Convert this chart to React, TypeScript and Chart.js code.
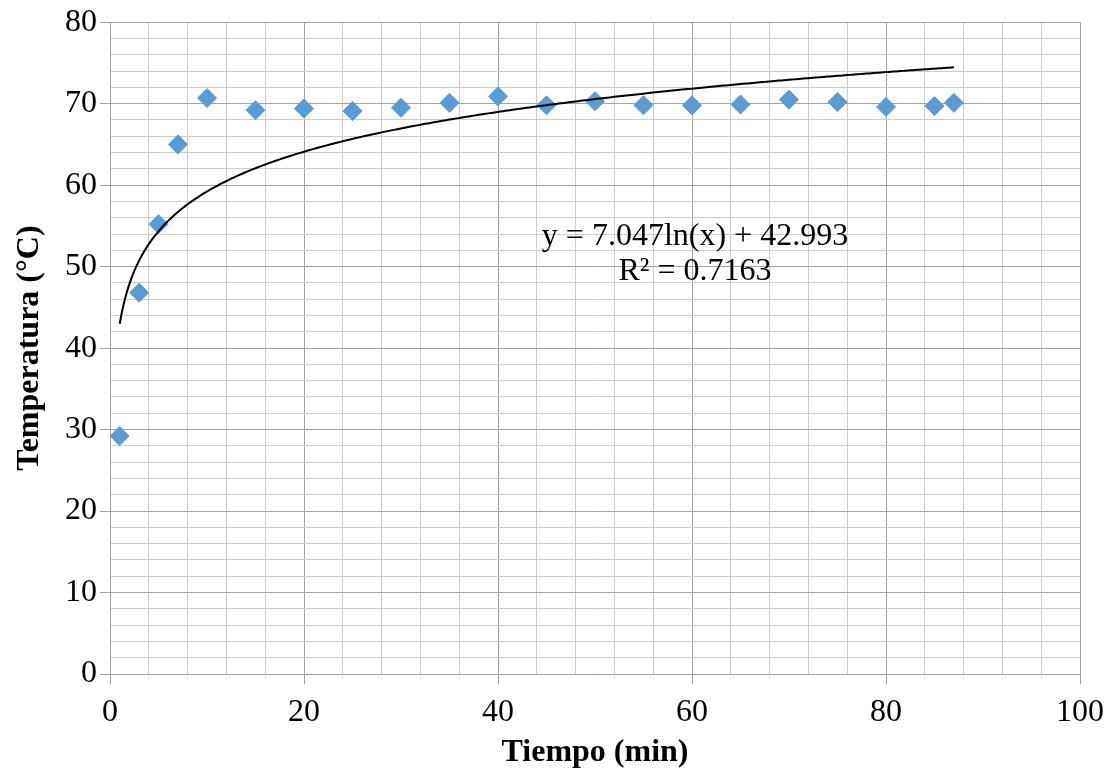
import React, { useEffect, useRef } from "react";
import { Chart, registerables } from "chart.js";

Chart.register(...registerables);

// Data
const tiempo = [1, 3, 5, 7, 10, 15, 20, 25, 30, 35, 40, 45, 50, 55, 60, 65, 70, 75, 80, 85, 87];
const temperatura = [29.2, 46.8, 55.2, 65.0, 70.7, 69.2, 69.4, 69.1, 69.5, 70.1, 70.9, 69.8, 70.3, 69.8, 69.8, 69.9, 70.5, 70.2, 69.6, 69.7, 70.1];

// Logarithmic trendline as printed on the chart
const trendA = 7.047;
const trendB = 42.993;
const trendLabel = ["y = 7.047ln(x) + 42.993", "R² = 0.7163"];

const xTitle = "Tiempo (min)";
const yTitle = "Temperatura (°C)";

const FONT = "'Liberation Serif', 'Times New Roman', serif";
const MAJOR = "#a3a3a3";
const MINOR = "#cdcdcd";

export default function App() {
  const ref = useRef<HTMLCanvasElement>(null);

  useEffect(() => {
    document.body.style.margin = "0";
    const canvas = ref.current;
    if (!canvas) return;

    const points = tiempo.map((x, i) => ({ x, y: temperatura[i] }));
    const xMin = tiempo[0];
    const xMax = tiempo[tiempo.length - 1];
    const trend: { x: number; y: number }[] = [];
    for (let x = xMin; x <= xMax + 1e-9; x += 0.25) {
      trend.push({ x, y: trendA * Math.log(x) + trendB });
    }

    const labelPlugin = {
      id: "trendLabel",
      afterDatasetsDraw(chart: any) {
        const ctx = chart.ctx;
        ctx.save();
        ctx.font = `32px ${FONT}`;
        ctx.fillStyle = "#000";
        ctx.textAlign = "center";
        ctx.textBaseline = "alphabetic";
        ctx.fillText(trendLabel[0], 695, 245);
        ctx.fillText(trendLabel[1], 695, 280);
        ctx.restore();
      },
    };

    const chart = new Chart(canvas, {
      type: "scatter",
      data: {
        datasets: [
          {
            label: "Trend",
            data: trend,
            showLine: true,
            borderColor: "#000",
            borderWidth: 2,
            pointRadius: 0,
            fill: false,
            order: 0,
          },
          {
            label: "Temperatura",
            data: points,
            pointStyle: "rectRot",
            pointRadius: 9.5,
            backgroundColor: "#5b9bd5",
            borderColor: "#5b9bd5",
            borderWidth: 1,
            order: 1,
          },
        ],
      },
      options: {
        animation: false,
        responsive: false,
        layout: { padding: { top: 20, right: 34, left: 0, bottom: 0 } },
        plugins: { legend: { display: false }, tooltip: { enabled: false } },
        scales: {
          x: {
            type: "linear",
            min: 0,
            max: 100,
            afterFit: (s: any) => { s.height = 100; },
            ticks: {
              stepSize: 4,
              autoSkip: false,
              maxRotation: 0,
              padding: 9,
              color: "#000",
              font: { family: FONT, size: 32 },
              callback: (v: any) => (Number(v) % 20 === 0 ? String(v) : ""),
            },
            grid: {
              color: (c: any) => (c.tick && c.tick.value % 20 === 0 ? MAJOR : MINOR),
              tickColor: (c: any) => (c.tick && c.tick.value % 20 === 0 ? MAJOR : "rgba(0,0,0,0)"),
              tickLength: 10,
              lineWidth: 1,
            },
            border: { color: MAJOR, width: 1 },
            title: {
              display: true,
              text: xTitle,
              color: "#000",
              font: { family: FONT, size: 32, weight: "bold", lineHeight: 1.2 },
              padding: { top: 0, bottom: 2 },
            },
          },
          y: {
            type: "linear",
            min: 0,
            max: 80,
            afterFit: (s: any) => { s.width = 110; },
            ticks: {
              stepSize: 2,
              autoSkip: false,
              padding: 3,
              color: "#000",
              font: { family: FONT, size: 32 },
              callback: (v: any) => (Number(v) % 10 === 0 ? String(v) : ""),
            },
            grid: {
              color: (c: any) => (c.tick && c.tick.value % 10 === 0 ? MAJOR : MINOR),
              tickColor: (c: any) => (c.tick && c.tick.value % 10 === 0 ? MAJOR : "rgba(0,0,0,0)"),
              tickLength: 10,
              lineWidth: 1,
            },
            border: { color: MAJOR, width: 1 },
            title: {
              display: true,
              text: yTitle,
              color: "#000",
              font: { family: FONT, size: 32, weight: "bold", lineHeight: 1.2 },
              padding: { top: 11, bottom: 0 },
            },
          },
        },
      },
      plugins: [labelPlugin],
    } as any);

    return () => chart.destroy();
  }, []);

  return (
    <div style={{ width: 1114, height: 774 }}>
      <canvas ref={ref} width={1114} height={774} style={{ display: "block" }} />
    </div>
  );
}
